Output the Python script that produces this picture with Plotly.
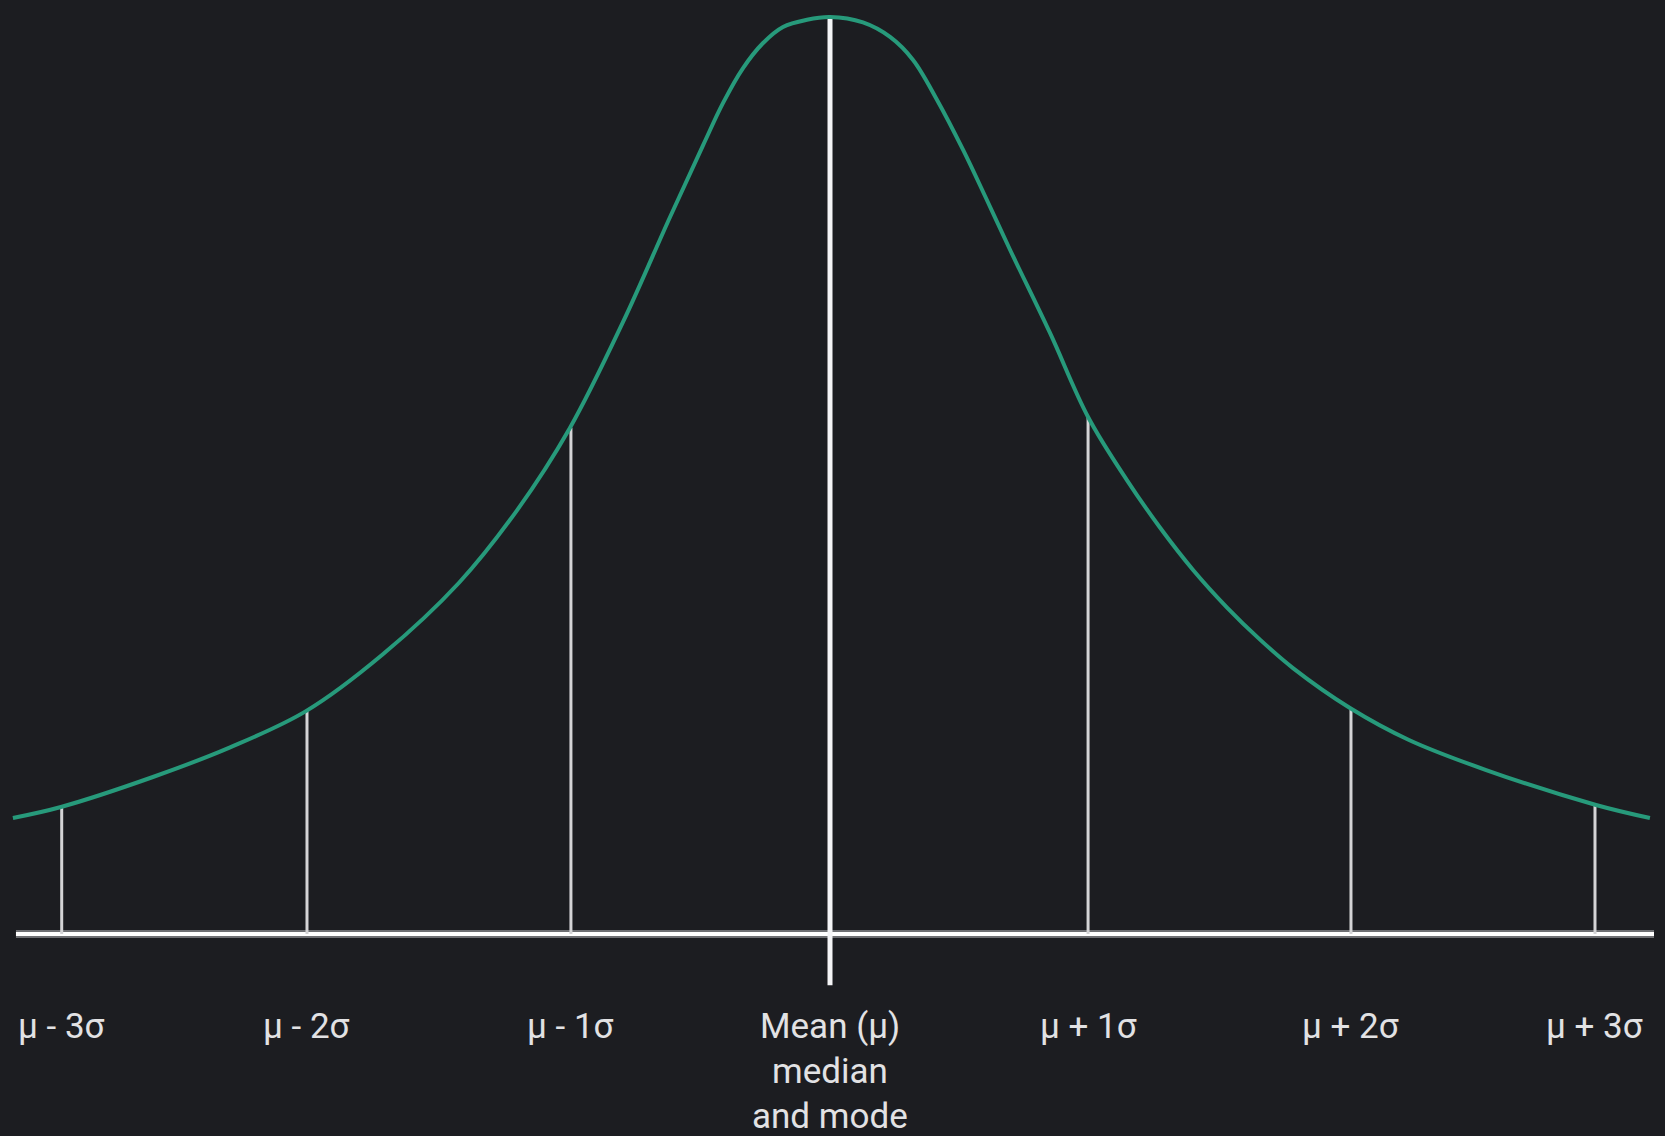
import plotly.graph_objects as go

# ---- data (x in units of sigma from the mean, y as share of the peak height) ----
curve_x = [-3.198, -3.010, -2.650, -2.348, -2.051, -1.750, -1.452, -1.225, -1.018,
           -0.810, -0.626, -0.497, -0.419, -0.341, -0.262, -0.184, -0.090, 0.0,
           0.129, 0.235, 0.325, 0.419, 0.521, 0.614, 0.705, 0.861, 1.010, 1.162,
           1.292, 1.421, 1.554, 1.683, 1.812, 2.035, 2.266, 2.568, 2.998, 3.209]
curve_y = [0.1265, 0.1385, 0.1712, 0.2035, 0.2430, 0.3050, 0.3830, 0.4620, 0.5518,
           0.6674, 0.7819, 0.8600, 0.9060, 0.9440, 0.9716, 0.9891, 0.9970, 1.0,
           0.9940, 0.9782, 0.9531, 0.9095, 0.8550, 0.8004, 0.7459, 0.6554, 0.5638, 0.4950,
           0.4430, 0.3970, 0.3560, 0.3210, 0.2900, 0.2465, 0.2116, 0.1788, 0.1407, 0.1265]

sigma_pos = [-3.007, -2.047, -1.014, 1.010, 2.039, 2.994]
sigma_height = [0.138, 0.2435, 0.552, 0.5638, 0.2445, 0.141]
mean_pos = 0
mean_top = 1.0
mean_bottom = -0.056

tick_pos = [-3.007, -2.047, -1.014, 0.0, 1.010, 2.039, 2.994]
tick_labels = ["μ - 3σ", "μ - 2σ", "μ - 1σ", "Mean (μ)\nmedian\nand mode",
               "μ + 1σ", "μ + 2σ", "μ + 3σ"]

axis_start, axis_end = -3.186, 3.225

BG = "#1c1d21"
GREEN = "#279a7b"
LINE = "#d4d4d6"

fig = go.Figure()

# baseline axis (soft edge + bright core)
fig.add_trace(go.Scatter(x=[axis_start, axis_end], y=[0, 0], mode="lines",
                         line=dict(color="#6e6f73", width=8), hoverinfo="skip"))
fig.add_trace(go.Scatter(x=[axis_start, axis_end], y=[0, 0], mode="lines",
                         line=dict(color="#ffffff", width=4), hoverinfo="skip"))

# sigma marker lines
vx, vy = [], []
for p, h in zip(sigma_pos, sigma_height):
    vx += [p, p, None]
    vy += [0, h, None]
fig.add_trace(go.Scatter(x=vx, y=vy, mode="lines",
                         line=dict(color=LINE, width=3), hoverinfo="skip"))

# mean line
fig.add_trace(go.Scatter(x=[mean_pos, mean_pos], y=[mean_bottom, mean_top], mode="lines",
                         line=dict(color="#f4f4f6", width=5), hoverinfo="skip"))

# curve
fig.add_trace(go.Scatter(x=curve_x, y=curve_y, mode="lines",
                         line=dict(color=GREEN, width=4, shape="spline", smoothing=1.0),
                         hoverinfo="skip"))

# labels
line_y = [-0.1005, -0.1495, -0.1995]
for p, lab in zip(tick_pos, tick_labels):
    for i, part in enumerate(lab.split("\n")):
        fig.add_annotation(x=p, y=line_y[i], text=part, showarrow=False,
                           xanchor="center", yanchor="middle",
                           font=dict(family="Roboto, Lato, sans-serif", size=35,
                                     color="#e2e2e4"))

fig.update_layout(
    width=1665, height=1136,
    margin=dict(l=0, r=0, t=0, b=0),
    paper_bgcolor=BG, plot_bgcolor=BG,
    showlegend=False,
    xaxis=dict(range=[-3.2485, 3.268], visible=False, fixedrange=True),
    yaxis=dict(range=[-0.2203, 1.0185], visible=False, fixedrange=True),
)

fig.write_html("out.html", config={"displayModeBar": False},
               post_script="document.body.style.margin='0';document.body.style.overflow='hidden';document.body.style.background='#1c1d21';")
